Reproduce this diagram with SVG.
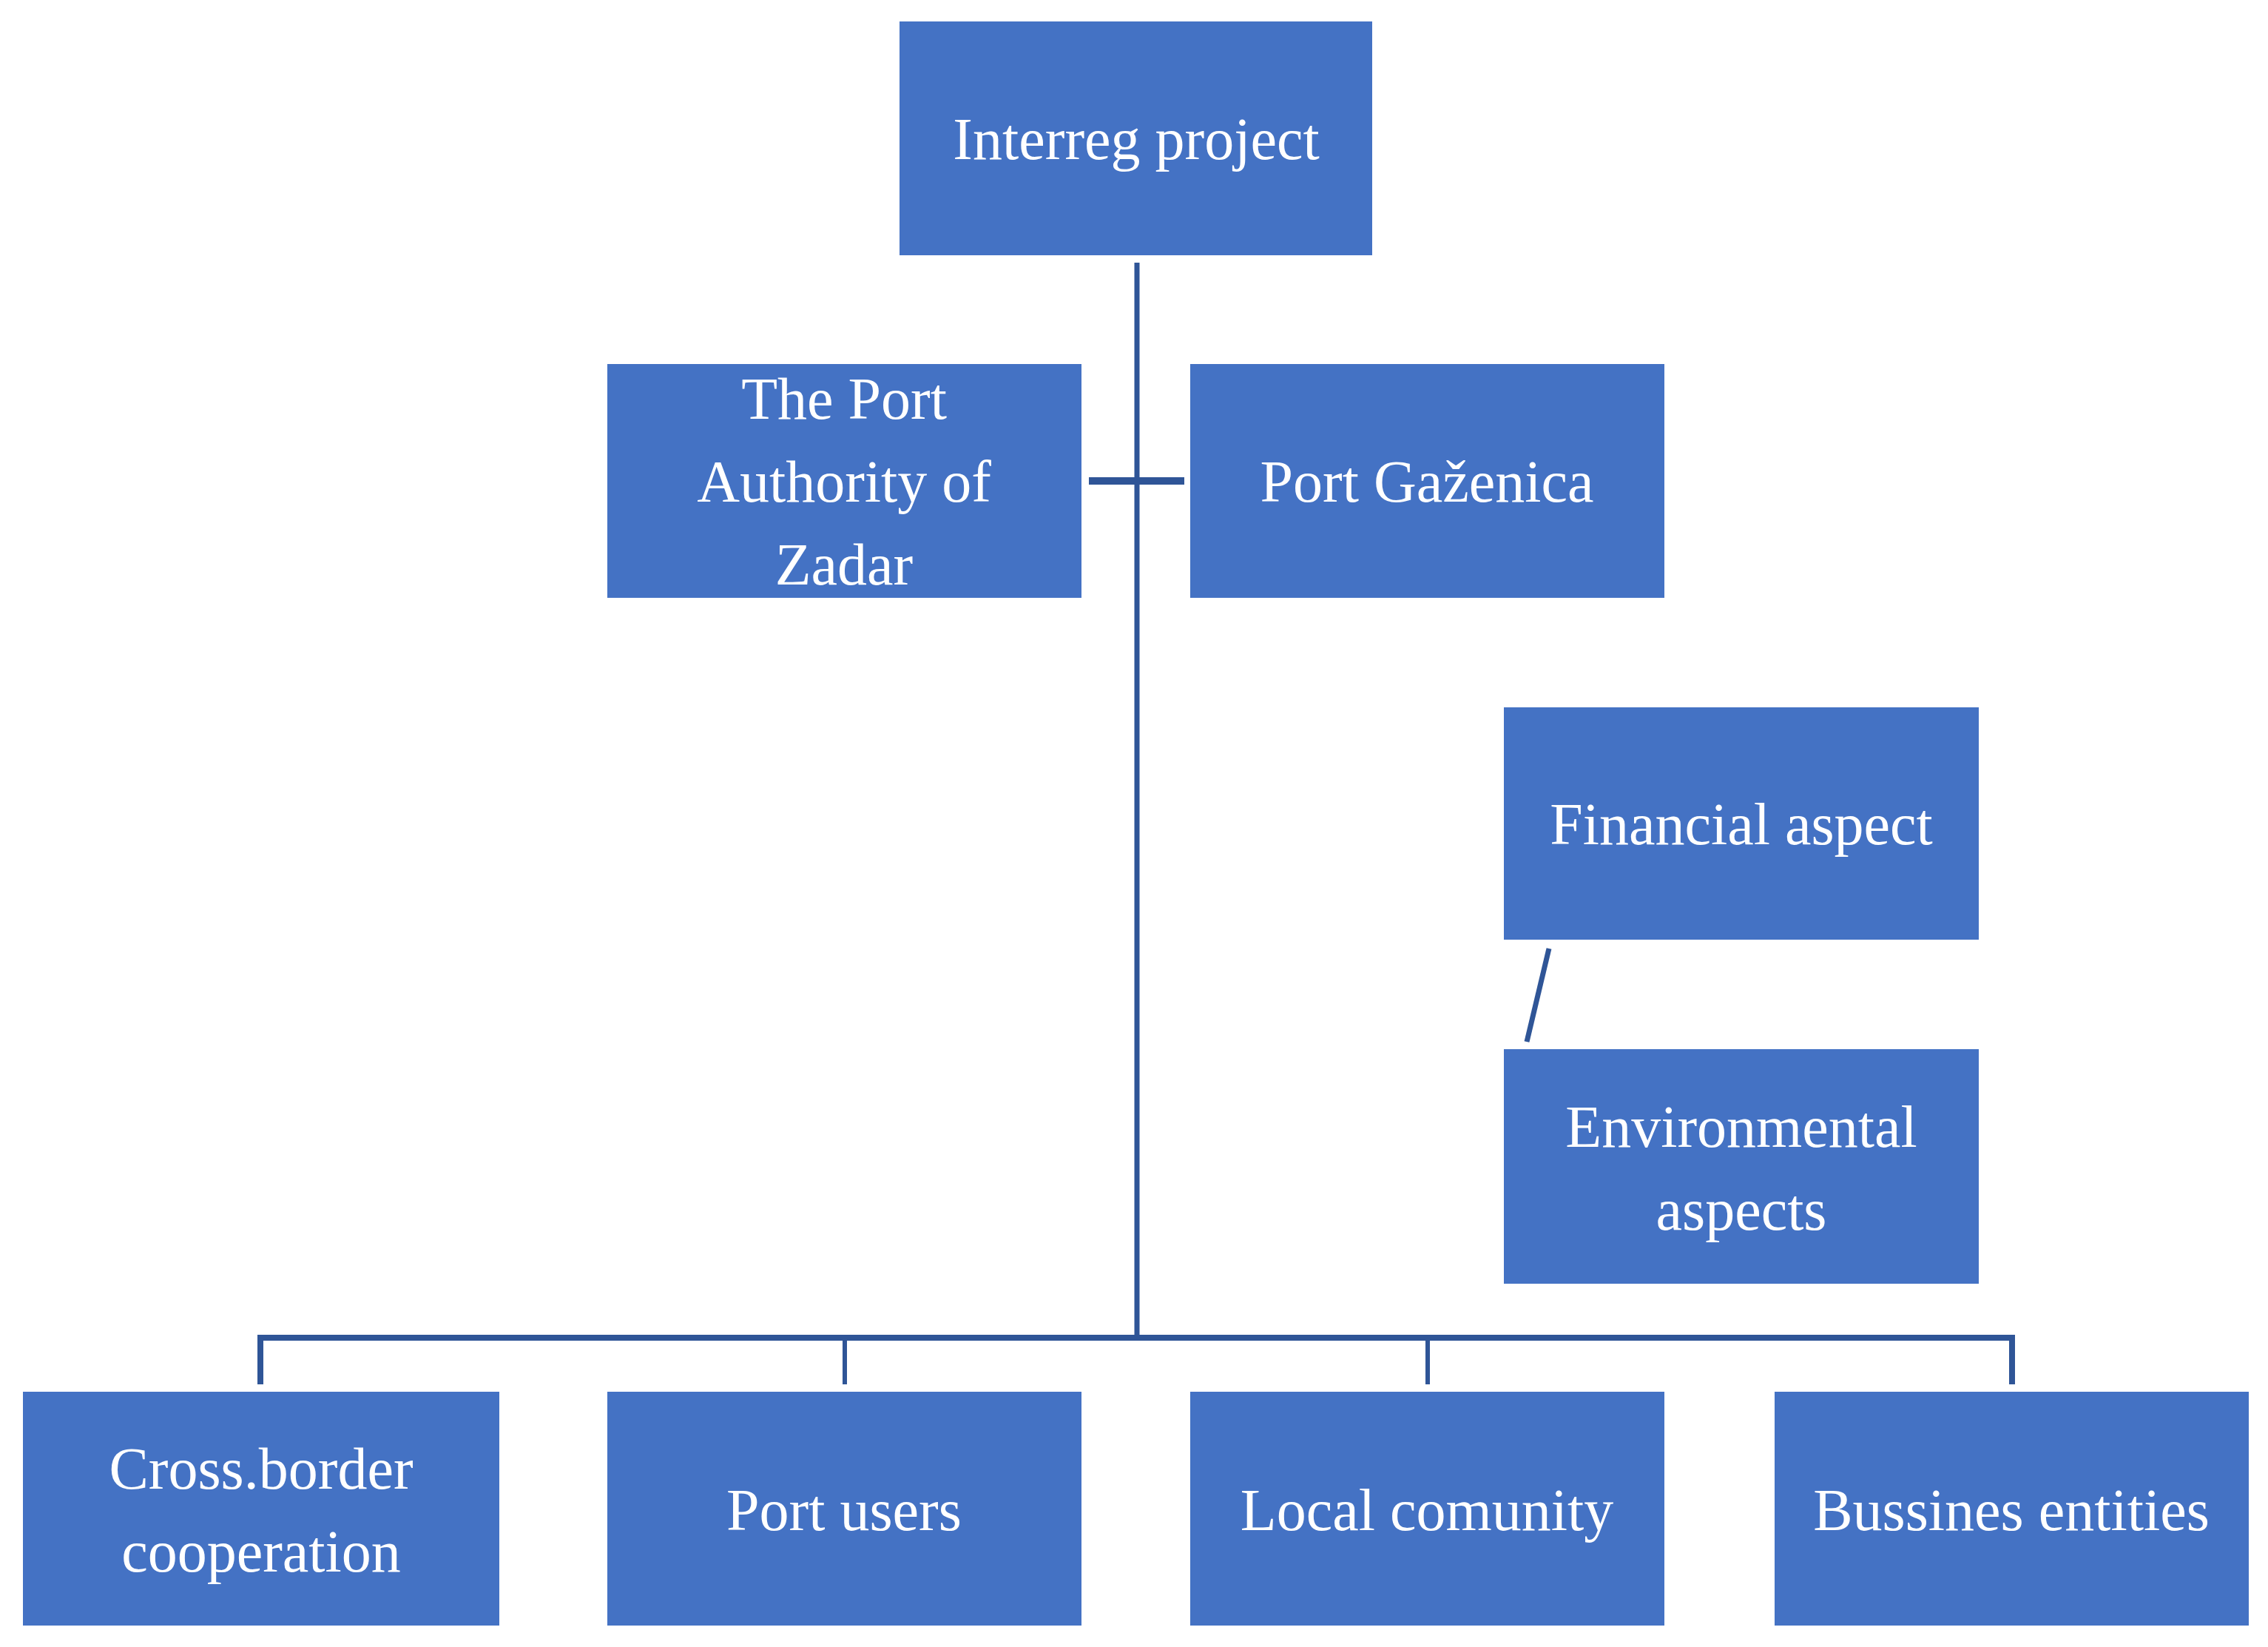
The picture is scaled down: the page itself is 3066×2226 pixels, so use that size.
<svg xmlns="http://www.w3.org/2000/svg" width="3066" height="2226" viewBox="0 0 3066 2226">
<style>
.n{fill:#4472C4}
.t{font-family:"Liberation Serif","DejaVu Serif",serif;font-size:80px;fill:#fff;text-anchor:middle}
.c{stroke:#2F5597;fill:none}
</style>
<rect width="3066" height="2226" fill="#fff"/>
<g id="connectors">
<line class="c" x1="1537" y1="355" x2="1537" y2="1808" stroke-width="7"/>
<line class="c" x1="1472" y1="650" x2="1601" y2="650" stroke-width="10"/>
<polyline class="c" points="352,1871 352,1808 2720,1808 2720,1871" stroke-width="8"/>
<line class="c" x1="1142" y1="1808" x2="1142" y2="1871" stroke-width="6"/>
<line class="c" x1="1930" y1="1808" x2="1930" y2="1871" stroke-width="6"/>
<line class="c" x1="2094" y1="1282" x2="2064" y2="1408" stroke-width="7"/>
</g>
<g id="interreg"><rect class="n" x="1216" y="29" width="639" height="316"/><text class="t" x="1536" y="215">Interreg project</text></g>
<g id="authority"><rect class="n" x="821" y="492" width="641" height="316"/><text class="t" x="1141" y="566">The Port</text><text class="t" x="1141" y="678">Authority of</text><text class="t" x="1141" y="790">Zadar</text></g>
<g id="gazenica"><rect class="n" x="1609" y="492" width="641" height="316"/><text class="t" x="1929" y="678">Port Gaženica</text></g>
<g id="financial"><rect class="n" x="2033" y="956" width="642" height="314"/><text class="t" x="2354" y="1141">Financial aspect</text></g>
<g id="environmental"><rect class="n" x="2033" y="1418" width="642" height="317"/><text class="t" x="2354" y="1550">Environmental</text><text class="t" x="2354" y="1662">aspects</text></g>
<g id="crossborder"><rect class="n" x="31" y="1881" width="644" height="316"/><text class="t" x="353" y="2012">Cross.border</text><text class="t" x="353" y="2124">cooperation</text></g>
<g id="portusers"><rect class="n" x="821" y="1881" width="641" height="316"/><text class="t" x="1141" y="2068">Port users</text></g>
<g id="local"><rect class="n" x="1609" y="1881" width="641" height="316"/><text class="t" x="1929" y="2068">Local comunity</text></g>
<g id="business"><rect class="n" x="2399" y="1881" width="641" height="316"/><text class="t" x="2719" y="2068">Bussines entities</text></g>
</svg>
